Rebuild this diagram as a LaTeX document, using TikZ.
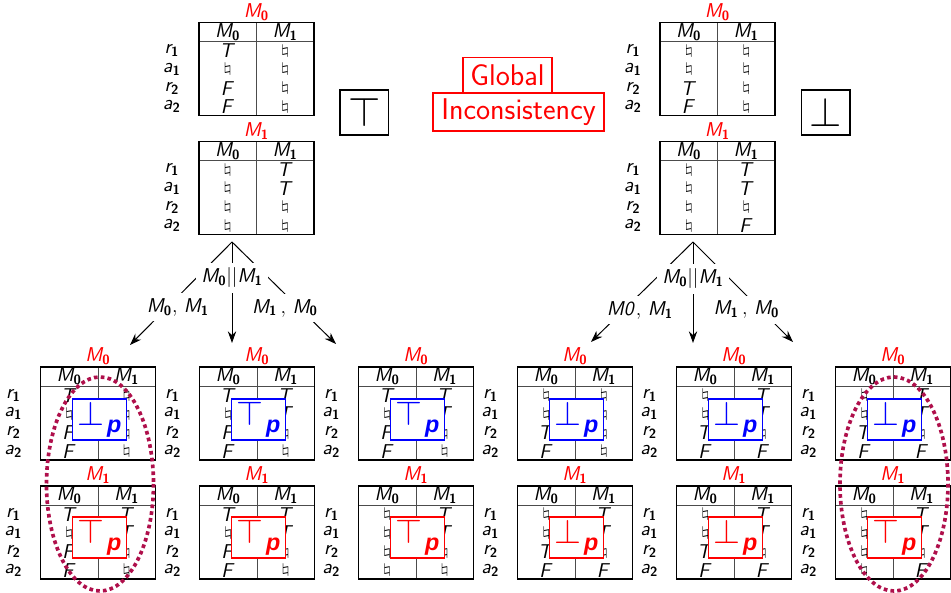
\documentclass[tikz,border=0pt]{standalone}
\usepackage{graphicx}
\usetikzlibrary{arrows.meta}

\DeclareMathAlphabet{\mathsfit}{OT1}{cmss}{m}{sl}
\DeclareMathAlphabet{\mathsfbf}{OT1}{cmss}{bx}{n}
\font\pfont="Liberation Sans/BI" at 14pt
\definecolor{ringc}{RGB}{175,15,75}

\newcommand{\mv}[2]{\mathsfit{#1}_{\mathsfbf{#2}}}
\newcommand{\vT}{\mathsfit{T}}
\newcommand{\vF}{\mathsfit{F}}
\newcommand{\vN}{\scalebox{1.25}[0.68]{$\natural$}}
\newcommand{\psym}[1]{{\fontsize{20}{20}\selectfont$#1$}\hspace{1.5pt}\raisebox{-4.5pt}{\pfont p}}

% #1 name, #2 left, #3 top, #4 title index, #5 column M0, #6 column M1
\newcommand{\ktable}[6]{%
  \node[ttl] (#1-t) at (#2+57.5,#3-10.5) {$\mv{M}{#4}$};
  \draw[grid] (#2,#3+19) -- (#2+115,#3+19);
  \draw[grid] (#2+57.5,#3) -- (#2+57.5,#3+93);
  \draw[frame] (#2,#3) rectangle (#2+115,#3+93);
  \node[cell] (#1-h0) at (#2+28.75,#3+9.5) {$\mv{M}{0}$};
  \node[cell] (#1-h1) at (#2+86.25,#3+9.5) {$\mv{M}{1}$};
  \foreach \rl/\rs [count=\ri] in {r/1,a/1,r/2,a/2}
    \node[cell] (#1-l\ri) at (#2-27,#3+9.5+18.7*\ri) {$\mv{\rl}{\rs}$};
  \foreach \cv [count=\ci] in {#5}
    \node[cell] (#1-a\ci) at (#2+28.75,#3+9.5+18.7*\ci) {$\cv$};
  \foreach \cv [count=\ci] in {#6}
    \node[cell] (#1-b\ci) at (#2+86.25,#3+9.5+18.7*\ci) {$\cv$};
}

\begin{document}
\begin{tikzpicture}[x=0.6pt,y=-0.6pt, font=\fontsize{12}{14}\selectfont,
    ttl/.style={text=red, inner sep=0pt},
    cell/.style={inner sep=0pt},
    grid/.style={black!70, line width=0.5pt},
    frame/.style={black, line width=0.7pt},
    bigbox/.style={draw, line width=0.8pt, minimum width=29.2pt, minimum height=27pt, inner sep=0pt},
    gbox/.style={draw=red, text=red, line width=0.8pt, inner sep=0pt, font=\sffamily\fontsize{18}{20}\selectfont},
    tbox/.style={draw=#1, text=#1, fill=white, line width=1pt, minimum width=32.4pt, minimum height=24.6pt, inner sep=0pt},
    lbl/.style={fill=white, inner xsep=3pt, inner ysep=3pt},
    ring/.style={ringc, line width=2.2pt, dash pattern=on 2.2pt off 1.9pt},
    arr/.style={-{Stealth[length=7pt,width=5pt]}, line width=0.6pt}]
\useasboundingbox (0,0) rectangle (951,593);

% top: the two states
\ktable{tl0}{199}{22.7}{0}{\vT,\vN,\vF,\vF}{\vN,\vN,\vN,\vN}
\ktable{tl1}{199}{141.7}{1}{\vN,\vN,\vN,\vN}{\vT,\vT,\vN,\vN}
\ktable{tr0}{660}{22.7}{0}{\vN,\vN,\vT,\vF}{\vN,\vN,\vN,\vN}
\ktable{tr1}{660}{141.7}{1}{\vN,\vN,\vN,\vN}{\vT,\vT,\vN,\vF}

\node[bigbox] (top) at (364.3,112.5) {\fontsize{28}{28}\selectfont$\top$};
\node[bigbox] (bot) at (825.5,112.5) {\fontsize{28}{28}\selectfont$\bot$};

\node[gbox, minimum width=102.6pt, minimum height=22.8pt] (inc) at (518.5,112) {Inconsistency};
\node[gbox, minimum width=53.4pt, minimum height=21pt, anchor=south] (glob) at (507.5,93) {Global};

% merge orders
\coordinate (tl-o) at (232,242);
\coordinate (tl-l) at (130,345);
\coordinate (tl-m) at (232,343);
\coordinate (tl-r) at (336,344);
\coordinate (tr-o) at (693,242);
\coordinate (tr-l) at (591,342);
\coordinate (tr-m) at (693,343);
\coordinate (tr-r) at (793,342);
\draw[arr] (tl-o) -- (tl-l);
\draw[arr] (tl-o) -- (tl-m);
\draw[arr] (tl-o) -- (tl-r);
\draw[arr] (tr-o) -- (tr-l);
\draw[arr] (tr-o) -- (tr-m);
\draw[arr] (tr-o) -- (tr-r);
\node[lbl] (tl-lm) at (232,278) {$\mv{M}{0}||\mv{M}{1}$};
\node[lbl] (tl-ll) at (178,307) {$\mv{M}{0}$, $\mv{M}{1}$};
\node[lbl] (tl-lr) at (285,308) {$\mv{M}{1}\,,\,\mv{M}{0}$};
\node[lbl] (tr-lm) at (693,279) {$\mv{M}{0}||\mv{M}{1}$};
\node[lbl] (tr-ll) at (640,310) {$\mathsfit{M0}$, $\mv{M}{1}$};
\node[lbl] (tr-lr) at (746.5,310) {$\mv{M}{1}\,,\,\mv{M}{0}$};

% bottom: results
\ktable{b1-0}{40.5}{367}{0}{\vT,\vN,\vF,\vF}{\vN,\vN,\vN,\vN}
\ktable{b1-1}{40.5}{486}{1}{\vT,\vN,\vF,\vF}{\vT,\vT,\vN,\vN}
\ktable{b2-0}{199.5}{367}{0}{\vT,\vN,\vF,\vF}{\vT,\vT,\vN,\vN}
\ktable{b2-1}{199.5}{486}{1}{\vT,\vN,\vF,\vF}{\vT,\vT,\vN,\vN}
\ktable{b3-0}{358.5}{367}{0}{\vT,\vN,\vF,\vF}{\vT,\vT,\vN,\vN}
\ktable{b3-1}{358.5}{486}{1}{\vN,\vN,\vN,\vN}{\vT,\vT,\vN,\vN}
\ktable{b4-0}{517.5}{367}{0}{\vN,\vN,\vT,\vF}{\vN,\vN,\vN,\vN}
\ktable{b4-1}{517.5}{486}{1}{\vN,\vN,\vT,\vF}{\vT,\vT,\vN,\vF}
\ktable{b5-0}{676.5}{367}{0}{\vN,\vN,\vT,\vF}{\vT,\vT,\vN,\vF}
\ktable{b5-1}{676.5}{486}{1}{\vN,\vN,\vT,\vF}{\vT,\vT,\vN,\vF}
\ktable{b6-0}{835.5}{367}{0}{\vN,\vN,\vT,\vF}{\vT,\vT,\vN,\vF}
\ktable{b6-1}{835.5}{486}{1}{\vN,\vN,\vN,\vN}{\vT,\vT,\vN,\vF}

\node[tbox=blue] (b1-p0) at (99.5,419.5) {\psym{\bot}};
\node[tbox=red] (b1-p1) at (99.5,537.5) {\psym{\top}};
\node[tbox=blue] (b2-p0) at (258.5,419.5) {\psym{\top}};
\node[tbox=red] (b2-p1) at (258.5,537.5) {\psym{\top}};
\node[tbox=blue] (b3-p0) at (417.5,419.5) {\psym{\top}};
\node[tbox=red] (b3-p1) at (417.5,537.5) {\psym{\top}};
\node[tbox=blue] (b4-p0) at (576.5,419.5) {\psym{\bot}};
\node[tbox=red] (b4-p1) at (576.5,537.5) {\psym{\bot}};
\node[tbox=blue] (b5-p0) at (735.5,419.5) {\psym{\bot}};
\node[tbox=red] (b5-p1) at (735.5,537.5) {\psym{\bot}};
\node[tbox=blue] (b6-p0) at (894.5,419.5) {\psym{\bot}};
\node[tbox=red] (b6-p1) at (894.5,537.5) {\psym{\top}};

% the two matching results
\draw[ring] (100,484) ellipse [x radius=53.5, y radius=107];
\draw[ring] (894,484) ellipse [x radius=54, y radius=107];
\end{tikzpicture}
\end{document}
